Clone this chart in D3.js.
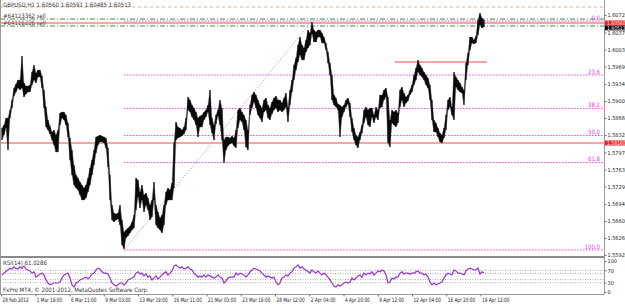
<!DOCTYPE html>
<html>
<head>
<meta charset="utf-8">
<script src="https://cdn.jsdelivr.net/npm/d3@7"></script>
<style>
  body { margin: 0; background: #fff; }
  svg { display: block; font-family: 'Liberation Sans Narrow', 'DejaVu Sans Condensed', 'Liberation Sans', sans-serif; }
</style>
</head>
<body>
<svg id="chart" width="625" height="305"></svg>
<script>
// GBPUSD H1 - highs/lows, one sample every ~3.7 hourly bars
var highs = [
  1.5846, 1.5852, 1.5866, 1.5866, 1.5882, 1.5902, 1.5926, 1.5934, 1.5942, 1.5942,
  1.5990, 1.5936, 1.5930, 1.5930, 1.5932, 1.5958, 1.5972, 1.5956, 1.5962, 1.5962,
  1.5950, 1.5922, 1.5888, 1.5862, 1.5850, 1.5838, 1.5842, 1.5832, 1.5842, 1.5876,
  1.5878, 1.5878, 1.5872, 1.5856, 1.5826, 1.5802, 1.5772, 1.5752, 1.5746, 1.5738,
  1.5732, 1.5726, 1.5732, 1.5746, 1.5766, 1.5782, 1.5802, 1.5828, 1.5830, 1.5832,
  1.5830, 1.5828, 1.5826, 1.5806, 1.5752, 1.5692, 1.5676, 1.5674, 1.5676, 1.5692,
  1.5662, 1.5638, 1.5642, 1.5646, 1.5650, 1.5658, 1.5672, 1.5746, 1.5742, 1.5718,
  1.5732, 1.5712, 1.5716, 1.5706, 1.5692, 1.5702, 1.5738, 1.5692, 1.5678, 1.5666,
  1.5672, 1.5692, 1.5718, 1.5726, 1.5722, 1.5736, 1.5816, 1.5858, 1.5848, 1.5846,
  1.5842, 1.5848, 1.5866, 1.5908, 1.5902, 1.5892, 1.5886, 1.5878, 1.5866, 1.5870,
  1.5872, 1.5878, 1.5882, 1.5892, 1.5922, 1.5866, 1.5852, 1.5872, 1.5882, 1.5902,
  1.5886, 1.5822, 1.5828, 1.5828, 1.5826, 1.5830, 1.5826, 1.5842, 1.5882, 1.5886,
  1.5878, 1.5872, 1.5862, 1.5842, 1.5892, 1.5912, 1.5918, 1.5912, 1.5902, 1.5892,
  1.5886, 1.5902, 1.5906, 1.5892, 1.5886, 1.5898, 1.5906, 1.5910, 1.5902, 1.5902,
  1.5896, 1.5906, 1.5916, 1.5888, 1.5922, 1.5942, 1.5972, 1.5986, 1.6012, 1.6028,
  1.6012, 1.6006, 1.6022, 1.6042, 1.6036, 1.6058, 1.6042, 1.6038, 1.6042, 1.6042,
  1.6036, 1.6028, 1.6016, 1.5998, 1.5976, 1.5952, 1.5912, 1.5906, 1.5894, 1.5892,
  1.5888, 1.5892, 1.5902, 1.5906, 1.5896, 1.5866, 1.5846, 1.5832, 1.5828, 1.5838,
  1.5852, 1.5882, 1.5888, 1.5882, 1.5886, 1.5886, 1.5872, 1.5888, 1.5882, 1.5912,
  1.5912, 1.5922, 1.5926, 1.5908, 1.5862, 1.5882, 1.5878, 1.5882, 1.5876, 1.5922,
  1.5928, 1.5916, 1.5908, 1.5912, 1.5922, 1.5932, 1.5952, 1.5966, 1.5982, 1.5972,
  1.5966, 1.5958, 1.5952, 1.5946, 1.5932, 1.5902, 1.5862, 1.5856, 1.5846, 1.5836,
  1.5832, 1.5846, 1.5872, 1.5902, 1.5908, 1.5888, 1.5958, 1.5948, 1.5942, 1.5936,
  1.5928, 1.5922, 1.5976, 1.5996, 1.6028, 1.6028, 1.6022, 1.6030, 1.6062, 1.6076,
  1.6066, 1.6062
];
var lows = [
  1.5822, 1.5832, 1.5846, 1.5802, 1.5866, 1.5886, 1.5910, 1.5918, 1.5926, 1.5922,
  1.5926, 1.5908, 1.5914, 1.5918, 1.5918, 1.5932, 1.5942, 1.5936, 1.5948, 1.5948,
  1.5926, 1.5886, 1.5848, 1.5842, 1.5834, 1.5822, 1.5812, 1.5798, 1.5798, 1.5852,
  1.5866, 1.5862, 1.5852, 1.5828, 1.5782, 1.5752, 1.5732, 1.5726, 1.5722, 1.5712,
  1.5702, 1.5702, 1.5706, 1.5718, 1.5732, 1.5752, 1.5772, 1.5796, 1.5812, 1.5818,
  1.5818, 1.5816, 1.5806, 1.5768, 1.5702, 1.5662, 1.5658, 1.5662, 1.5664, 1.5652,
  1.5612, 1.5604, 1.5626, 1.5630, 1.5636, 1.5642, 1.5646, 1.5682, 1.5708, 1.5686,
  1.5702, 1.5678, 1.5692, 1.5682, 1.5662, 1.5668, 1.5702, 1.5652, 1.5646, 1.5642,
  1.5636, 1.5652, 1.5692, 1.5702, 1.5702, 1.5702, 1.5726, 1.5822, 1.5826, 1.5828,
  1.5830, 1.5834, 1.5842, 1.5882, 1.5878, 1.5868, 1.5862, 1.5852, 1.5828, 1.5848,
  1.5848, 1.5862, 1.5868, 1.5878, 1.5852, 1.5836, 1.5822, 1.5854, 1.5870, 1.5852,
  1.5822, 1.5776, 1.5802, 1.5810, 1.5814, 1.5816, 1.5810, 1.5806, 1.5846, 1.5862,
  1.5858, 1.5842, 1.5808, 1.5802, 1.5872, 1.5886, 1.5898, 1.5886, 1.5872, 1.5866,
  1.5858, 1.5878, 1.5882, 1.5866, 1.5862, 1.5874, 1.5882, 1.5886, 1.5878, 1.5882,
  1.5878, 1.5882, 1.5888, 1.5858, 1.5892, 1.5918, 1.5942, 1.5962, 1.5978, 1.5992,
  1.5982, 1.5982, 1.5998, 1.6006, 1.6012, 1.6034, 1.6018, 1.6018, 1.6028, 1.6028,
  1.6016, 1.6016, 1.6002, 1.5976, 1.5952, 1.5902, 1.5892, 1.5888, 1.5882, 1.5828,
  1.5868, 1.5878, 1.5888, 1.5894, 1.5868, 1.5838, 1.5822, 1.5812, 1.5806, 1.5822,
  1.5836, 1.5856, 1.5868, 1.5852, 1.5848, 1.5868, 1.5856, 1.5868, 1.5862, 1.5886,
  1.5888, 1.5902, 1.5908, 1.5816, 1.5808, 1.5856, 1.5852, 1.5848, 1.5856, 1.5888,
  1.5902, 1.5888, 1.5896, 1.5900, 1.5912, 1.5918, 1.5932, 1.5942, 1.5958, 1.5952,
  1.5948, 1.5942, 1.5932, 1.5926, 1.5902, 1.5862, 1.5838, 1.5838, 1.5828, 1.5818,
  1.5816, 1.5826, 1.5842, 1.5882, 1.5888, 1.5872, 1.5862, 1.5928, 1.5922, 1.5918,
  1.5916, 1.5892, 1.5942, 1.5972, 1.6002, 1.6016, 1.6014, 1.6016, 1.6032, 1.6052,
  1.6046, 1.6048
];
var rsiValues = [
  55, 61, 66, 71, 77, 74, 81, 76, 74, 81, 77, 84, 74, 71, 68, 61, 65, 48, 52, 58,
  61, 55, 39, 29, 23, 26, 29, 29, 29, 32, 45, 55, 58, 61, 45, 23, 16, 29, 32, 39,
  42, 45, 48, 42, 48, 58, 61, 71, 77, 74, 65, 61, 61, 58, 45, 29, 23, 19, 23, 29,
  29, 23, 29, 39, 42, 45, 48, 61, 65, 58, 61, 52, 58, 48, 52, 39, 45, 52, 42, 48,
  55, 61, 65, 55, 61, 68, 84, 87, 81, 77, 81, 74, 77, 81, 74, 71, 61, 55, 48, 52,
  48, 55, 48, 55, 52, 48, 45, 48, 55, 48, 45, 29, 35, 45, 48, 48, 48, 61, 55, 61,
  58, 55, 48, 55, 65, 71, 77, 74, 71, 68, 61, 55, 48, 52, 48, 45, 48, 32, 23, 29,
  45, 48, 55, 52, 61, 65, 77, 81, 87, 77, 81, 74, 70, 66, 61, 71, 65, 61, 68, 61,
  55, 61, 55, 48, 39, 29, 19, 16, 23, 19, 23, 29, 32, 29, 32, 45, 39, 45, 52, 55,
  48, 61, 55, 61, 58, 65, 55, 61, 68, 65, 71, 68, 55, 29, 32, 45, 42, 48, 48, 61,
  65, 58, 61, 61, 58, 61, 61, 65, 68, 61, 61, 55, 58, 48, 32, 23, 29, 23, 26, 29,
  32, 45, 55, 61, 58, 55, 71, 68, 61, 61, 58, 55, 68, 74, 77, 74, 71, 71, 77, 58,
  65, 61
];
var timeLabels = ["28 Feb 2012", "1 Mar 19:00", "6 Mar 11:00", "9 Mar 03:00", "13 Mar 19:00",
  "16 Mar 11:00", "21 Mar 03:00", "23 Mar 19:00", "28 Mar 12:00", "2 Apr 04:00",
  "4 Apr 20:00", "9 Apr 12:00", "12 Apr 04:00", "16 Apr 20:00", "19 Apr 12:00"];
var labelBars = [0, 64, 128, 192, 256, 320, 384, 448, 512, 576, 640, 704, 768, 832, 896];
var priceTicks = [1.6072, 1.6037, 1.6003, 1.5969, 1.5934, 1.5900, 1.5866, 1.5832,
  1.5797, 1.5763, 1.5729, 1.5694, 1.5660, 1.5626, 1.5592];
var rsiLevels = [70, 60, 40, 30];
var rsiTicks = [100, 70, 30, 0];
var fibLevels = [0, 23.6, 38.2, 50.0, 61.8, 100.0];
var fibHigh = { bar: 581, price: 1.6060 }, fibLow = { bar: 230, price: 1.5602 };
var orders = [
  { price: 1.6064, label: "#64123362 sell" },
  { price: 1.6050, label: "#64116226 sell" }
];
var stopPrice = 1.6088;
var redLines = [1.6056, 1.5816];
var resistance = { from: 736, to: 908, price: 1.5978 };
var bid = 1.60513;

var svg = d3.select("#chart");
var W = 625, H = 305;
var right = 604, mainTop = 0, mainBottom = 256, rsiTop = 258, rsiBottom = 294;
var squeeze = 0.78;   // MT4 labels are narrower than the fonts we have

var x = d3.scaleLinear().domain([0, 896]).range([1, 480.5]);
var y = d3.scaleLinear().domain([1.5592, 1.6072]).range([255, 15]);
var ry = d3.scaleLinear().domain([0, 100]).range([292, 261]);
var barOf = function(i) { return 1.87 + i * 3.737; };

svg.append("rect").attr("width", W).attr("height", H).attr("fill", "#fff");

svg.append("clipPath").attr("id", "mainClip")
  .append("rect").attr("x", 1).attr("y", mainTop).attr("width", right - 1).attr("height", mainBottom - mainTop);

var main = svg.append("g").attr("clip-path", "url(#mainClip)");

// trade / order lines
main.append("line")
  .attr("x1", 0).attr("x2", right).attr("y1", y(stopPrice)).attr("y2", y(stopPrice))
  .attr("stroke", "#f4a88c").attr("stroke-dasharray", "3,3");

orders.forEach(function(o) {
  main.append("line")
    .attr("x1", 0).attr("x2", right).attr("y1", y(o.price)).attr("y2", y(o.price))
    .attr("stroke", "#3a8f3a").attr("stroke-dasharray", "5,2,1,2");
  main.append("text")
    .attr("x", 3).attr("y", y(o.price) - 1.5)
    .attr("font-size", 6).attr("fill", "#333")
    .text(o.label);
});

redLines.forEach(function(p) {
  main.append("line")
    .attr("x1", 0).attr("x2", right).attr("y1", y(p)).attr("y2", y(p))
    .attr("stroke", "#ef4b4b").attr("stroke-width", 1);
});

main.append("line")
  .attr("x1", x(resistance.from)).attr("x2", x(resistance.to))
  .attr("y1", y(resistance.price)).attr("y2", y(resistance.price))
  .attr("stroke", "#ef4b4b").attr("stroke-width", 1.2);

// fibonacci retracement
var fibRange = fibHigh.price - fibLow.price;
main.append("line")
  .attr("x1", x(fibLow.bar)).attr("y1", y(fibLow.price))
  .attr("x2", x(fibHigh.bar)).attr("y2", y(fibHigh.price))
  .attr("stroke", "#f060f0").attr("stroke-dasharray", "1,2");

fibLevels.forEach(function(lv) {
  var p = fibHigh.price - fibRange * lv / 100;
  main.append("line")
    .attr("x1", x(fibLow.bar)).attr("x2", right)
    .attr("y1", y(p)).attr("y2", y(p))
    .attr("stroke", "#ee44ee").attr("stroke-dasharray", "1.5,1.5");
  main.append("text")
    .attr("x", right - 4).attr("y", y(p) - 1.5)
    .attr("text-anchor", "end").attr("font-size", 6).attr("fill", "#e040e0")
    .text(lv.toFixed(1));
});

// price bars as a high/low band
var band = d3.area()
  .x(function(d, i) { return x(barOf(i)); })
  .y0(function(d, i) { return y(lows[i]); })
  .y1(function(d) { return y(d); });

main.append("path")
  .datum(highs)
  .attr("fill", "#111")
  .attr("stroke", "#777")
  .attr("stroke-width", 0.5)
  .attr("d", band);

main.selectAll(".bar")
  .data(highs)
  .enter().append("line")
  .attr("class", "bar")
  .attr("x1", function(d, i) { return x(barOf(i)); })
  .attr("x2", function(d, i) { return x(barOf(i)); })
  .attr("y1", function(d) { return y(d); })
  .attr("y2", function(d, i) { return y(lows[i]); })
  .attr("stroke", "#000")
  .attr("stroke-width", 1);

svg.append("text")
  .attr("x", 3).attr("y", 7)
  .attr("font-size", 6).attr("fill", "#333")
  .text("GBPUSD,H1  1.60560 1.60591 1.60485 1.60513");

// RSI window
svg.append("clipPath").attr("id", "rsiClip")
  .append("rect").attr("x", 1).attr("y", rsiTop).attr("width", right - 1).attr("height", rsiBottom - rsiTop);
var rsiG = svg.append("g").attr("clip-path", "url(#rsiClip)");

rsiLevels.forEach(function(l) {
  rsiG.append("line")
    .attr("x1", 0).attr("x2", right).attr("y1", ry(l)).attr("y2", ry(l))
    .attr("stroke", "#aaa").attr("stroke-dasharray", "1,1.5");
});

var rsiLine = d3.line()
  .x(function(d, i) { return x(barOf(i)); })
  .y(function(d) { return ry(d); });

rsiG.append("path")
  .datum(rsiValues)
  .attr("fill", "none")
  .attr("stroke", "#9a32cd")
  .attr("stroke-width", 1.2)
  .attr("d", rsiLine);

svg.append("text")
  .attr("x", 3).attr("y", 265)
  .attr("font-size", 6).attr("fill", "#333")
  .text("RSI(14) 61.0286");

svg.append("text")
  .attr("x", 3).attr("y", 292)
  .attr("font-size", 6).attr("fill", "#333")
  .text("FxPro MT4, © 2001-2012, MetaQuotes Software Corp.");

// frame
svg.append("rect").attr("x", 1).attr("y", mainBottom).attr("width", right - 1).attr("height", 2).attr("fill", "#8a8a8a");
svg.append("line").attr("x1", 0.5).attr("x2", 0.5).attr("y1", 0).attr("y2", rsiBottom).attr("stroke", "#999");
svg.append("line").attr("x1", right + 0.5).attr("x2", right + 0.5).attr("y1", 0).attr("y2", rsiBottom + 0.5).attr("stroke", "#999");
svg.append("line").attr("x1", 0).attr("x2", right + 0.5).attr("y1", rsiBottom + 0.5).attr("y2", rsiBottom + 0.5).attr("stroke", "#999");

// price axis
var pa = svg.append("g")
  .attr("transform", "translate(" + (right + 0.5) + ",0)")
  .call(d3.axisRight(y).tickValues(priceTicks).tickFormat(d3.format(".5f")).tickSize(2));
pa.attr("font-family", null).attr("font-size", 5.5);
pa.select(".domain").remove();
pa.selectAll("text").attr("fill", "#222").attr("x", 3);
pa.selectAll("line").attr("stroke", "#777");

// price markers on the axis
[{ p: bid, c: "#000", dy: 2.5 }, { p: redLines[0], c: "#ee2222", dy: 0 }, { p: redLines[1], c: "#ee2222", dy: 0 }]
  .forEach(function(m) {
    var g = svg.append("g").attr("transform", "translate(" + (right + 1) + "," + (y(m.p) + m.dy) + ")");
    g.append("rect").attr("x", 0).attr("y", -2.5).attr("width", W - right).attr("height", 5).attr("fill", m.c);
    g.append("text").attr("x", 2).attr("y", 1.8).attr("font-size", 5).attr("fill", "#fff")
      .text(d3.format(".5f")(m.p));
  });

// RSI axis
var ra = svg.append("g")
  .attr("transform", "translate(" + (right + 0.5) + ",0)")
  .call(d3.axisRight(ry).tickValues(rsiTicks).tickSize(2));
ra.attr("font-family", null).attr("font-size", 5.5);
ra.select(".domain").remove();
ra.selectAll("text").attr("fill", "#222").attr("x", 3);
ra.selectAll("line").attr("stroke", "#777");

// time axis
var ta = svg.append("g")
  .attr("transform", "translate(0," + (rsiBottom + 0.5) + ")")
  .call(d3.axisBottom(x).tickValues(labelBars)
    .tickFormat(function(d, i) { return timeLabels[i]; }).tickSize(2));
ta.attr("font-family", null).attr("font-size", 6);
ta.select(".domain").remove();
ta.selectAll("text").attr("fill", "#222")
  .attr("text-anchor", "start").attr("x", 1 / squeeze).attr("y", 3)
  .attr("transform", "scale(" + squeeze + ",1)");
ta.selectAll("line").attr("stroke", "#777");
</script>
</body>
</html>
